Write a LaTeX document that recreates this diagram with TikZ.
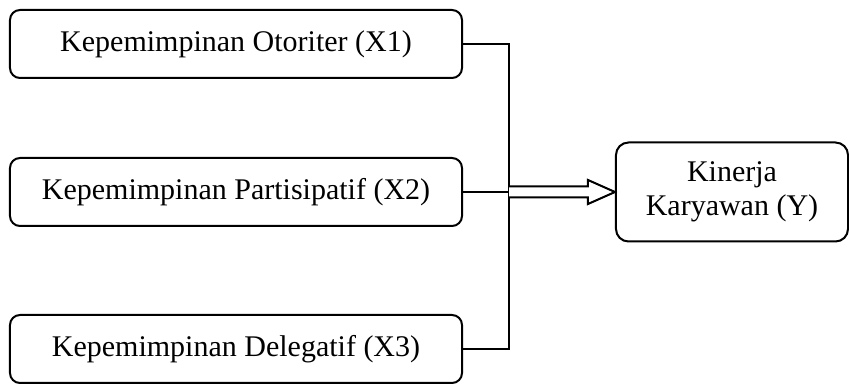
\documentclass[tikz,border=0pt]{standalone}
\usepackage{fontspec}
\setmainfont{Liberation Serif}
\usetikzlibrary{calc}

\begin{document}
\begin{tikzpicture}[x=0.4pt, y=-0.4pt]
\tikzstyle{varbox}=[rectangle, rounded corners=4pt, draw=black, line width=0.8pt, minimum width=180.8pt, minimum height=27.2pt, inner sep=2pt, font=\fontsize{12}{13}\selectfont]
\tikzstyle{resbox}=[rectangle, rounded corners=5pt, draw=black, line width=0.8pt, minimum width=92.8pt, minimum height=39.6pt, align=center, inner sep=2pt, font=\fontsize{12}{13.5}\selectfont]
\tikzstyle{drawstyle}=[line width=0.8pt]
\tikzstyle{arrowstyle}=[line width=0.8pt, fill=white, line join=miter]

\useasboundingbox (0,0) rectangle (849,385);

\node[varbox] (X1) at (236,44) {Kepemimpinan Otoriter (X1)};
\node[varbox] (X2) at (236,192) {Kepemimpinan Partisipatif (X2)};
\node[varbox] (X3) at (236,349) {Kepemimpinan Delegatif (X3)};
\node[resbox] (Y) at (732,192) {Kinerja\\Karyawan (Y)};

\coordinate (join) at (509,192);
\coordinate (tip) at (Y.west);
\draw[drawstyle] (X1.east) -| (join) |- (X3.east);
\draw[drawstyle] (X2.east) -- (join);
\draw[arrowstyle] ($(join)+(0,-5.5)$) -- ($(tip)+(-27,-5.5)$) -- ($(tip)+(-27,-12)$) -- (tip)
  -- ($(tip)+(-27,12)$) -- ($(tip)+(-27,5.5)$) -- ($(join)+(0,5.5)$);
\end{tikzpicture}
\end{document}
